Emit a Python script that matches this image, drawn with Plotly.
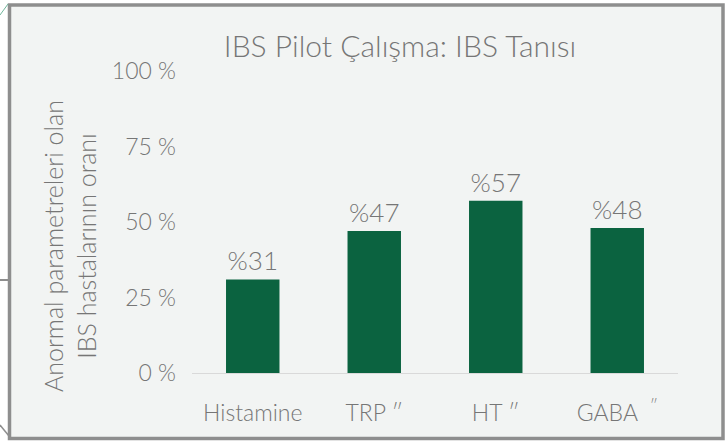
import plotly.graph_objects as go

categories = ["Histamine", "TRP ″", "HT ″", "GABA  <sup>″</sup>"]
values = [31, 47, 57, 48]
value_labels = ["%31", "%47", "%57", "%48"]
tick_vals = [0, 25, 50, 75, 100]
tick_text = ["0 %", "25 %", "50 %", "75 %", "100 %"]

W, H = 725, 441
L, R, T, B = 192, 47, 71, 68
PW, PH = W - L - R, H - T - B

def px(x):
    return (x - L) / PW

def py(y):
    return (H - B - y) / PH

grey = "#767676"
font_family = "Lato, 'Open Sans', sans-serif"
fw = 300

fig = go.Figure()
fig.add_trace(go.Bar(
    x=categories, y=values,
    marker=dict(color="#0b6340", line=dict(width=0)),
    text=value_labels, textposition="outside",
    textfont=dict(size=26, color=grey, family=font_family, weight=fw),
    cliponaxis=False, width=0.44,
))

shapes = [
    dict(type="rect", xref="paper", yref="paper", x0=px(9.5), x1=px(723), y0=py(438.5), y1=py(5),
         fillcolor="#f2f4f3", line=dict(color="#8e8e8e", width=3.5), layer="below"),
    dict(type="line", xref="paper", yref="paper", x0=px(0), x1=px(9), y0=py(280), y1=py(280),
         line=dict(color="#8e8e8e", width=2)),
    dict(type="line", xref="paper", yref="paper", x0=px(0), x1=px(8), y0=py(15), y1=py(4),
         line=dict(color="#6fb59a", width=1)),
    dict(type="line", xref="paper", yref="paper", x0=px(0), x1=px(9), y0=py(425), y1=py(436),
         line=dict(color="#8e8e8e", width=1.5)),
]

fig.update_layout(
    width=W, height=H,
    margin=dict(l=L, r=R, t=T, b=B),
    paper_bgcolor="white",
    plot_bgcolor="rgba(0,0,0,0)",
    font=dict(family=font_family, color=grey, weight=fw),
    showlegend=False,
    bargap=0.56,
    shapes=shapes,
    title=dict(text="IBS Pilot Çalışma: IBS Tanısı", x=400 / W, xanchor="center",
               y=1 - 46 / H, yanchor="middle", xref="container", yref="container",
               font=dict(size=30, color=grey, family=font_family, weight=fw)),
    annotations=[dict(
        text="Anormal parametreleri olan<br>IBS hastalarının oranı",
        xref="paper", yref="paper", x=px(69), y=py(246), textangle=-90,
        showarrow=False, xanchor="center", yanchor="middle",
        font=dict(size=25, color=grey, family=font_family, weight=fw),
    )],
    xaxis=dict(showgrid=False, showline=True, linecolor="#d9d9d9", linewidth=1,
               ticks="", tickfont=dict(size=23, color=grey, weight=fw), ticklabelstandoff=19),
    yaxis=dict(range=[0, 100], tickvals=tick_vals, ticktext=tick_text, showgrid=False,
               zeroline=False, showline=False, ticks="", ticklabelstandoff=15,
               tickfont=dict(size=23, color=grey, weight=fw)),
)

fig.write_html("out.html", config={"displayModeBar": False},
               post_script="document.body.style.margin='0';")
